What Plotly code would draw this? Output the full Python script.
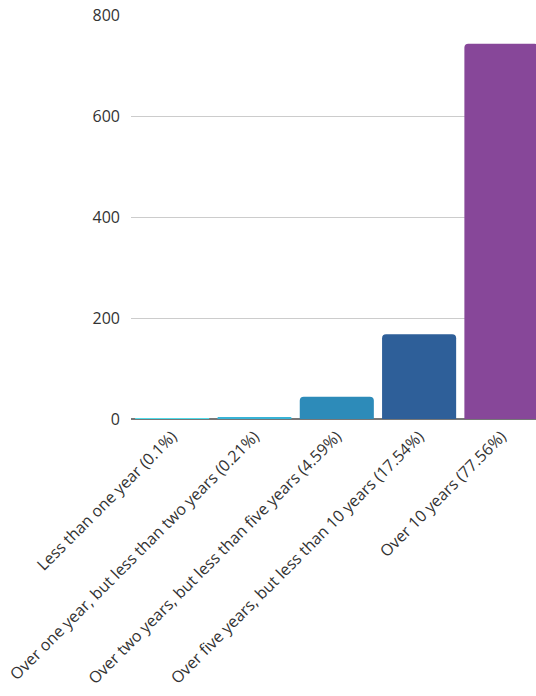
import plotly.graph_objects as go

# Years of experience, response counts
categories = [
    "Less than one year (0.1%)",
    "Over one year, but less than two years (0.21%)",
    "Over two years, but less than five years (4.59%)",
    "Over five years, but less than 10 years (17.54%)",
    "Over 10 years (77.56%)",
]
counts = [1, 2, 44, 168, 743]
bar_colors = ["#52dbe8", "#38b3d6", "#2d8bb9", "#2e5f99", "#874799"]
y_ticks = [0, 200, 400, 600, 800]

fig = go.Figure(
    go.Bar(
        x=categories,
        y=counts,
        marker=dict(color=bar_colors, line=dict(width=0)),
        width=0.9,
    )
)

fig.update_layout(
    width=536,
    height=696,
    margin=dict(l=131, r=0, t=15, b=277),
    paper_bgcolor="white",
    plot_bgcolor="white",
    showlegend=False,
    barcornerradius=4,
    font=dict(family="Open Sans, sans-serif", color="#333333"),
)

fig.update_xaxes(
    type="category",
    range=[-0.5, 4.42],
    tickangle=-45,
    tickfont=dict(size=16, color="#333333"),
    ticklabelstandoff=4,
    showgrid=False,
    showline=False,
    ticks="",
)

fig.update_yaxes(
    range=[0, 800],
    tickvals=y_ticks,
    tickfont=dict(size=16, color="#333333"),
    showgrid=True,
    gridcolor="#cccccc",
    gridwidth=1,
    zeroline=True,
    zerolinecolor="#777777",
    zerolinewidth=1.5,
    ticklabelstandoff=10,
    showline=False,
)

fig.write_html("out.html")
